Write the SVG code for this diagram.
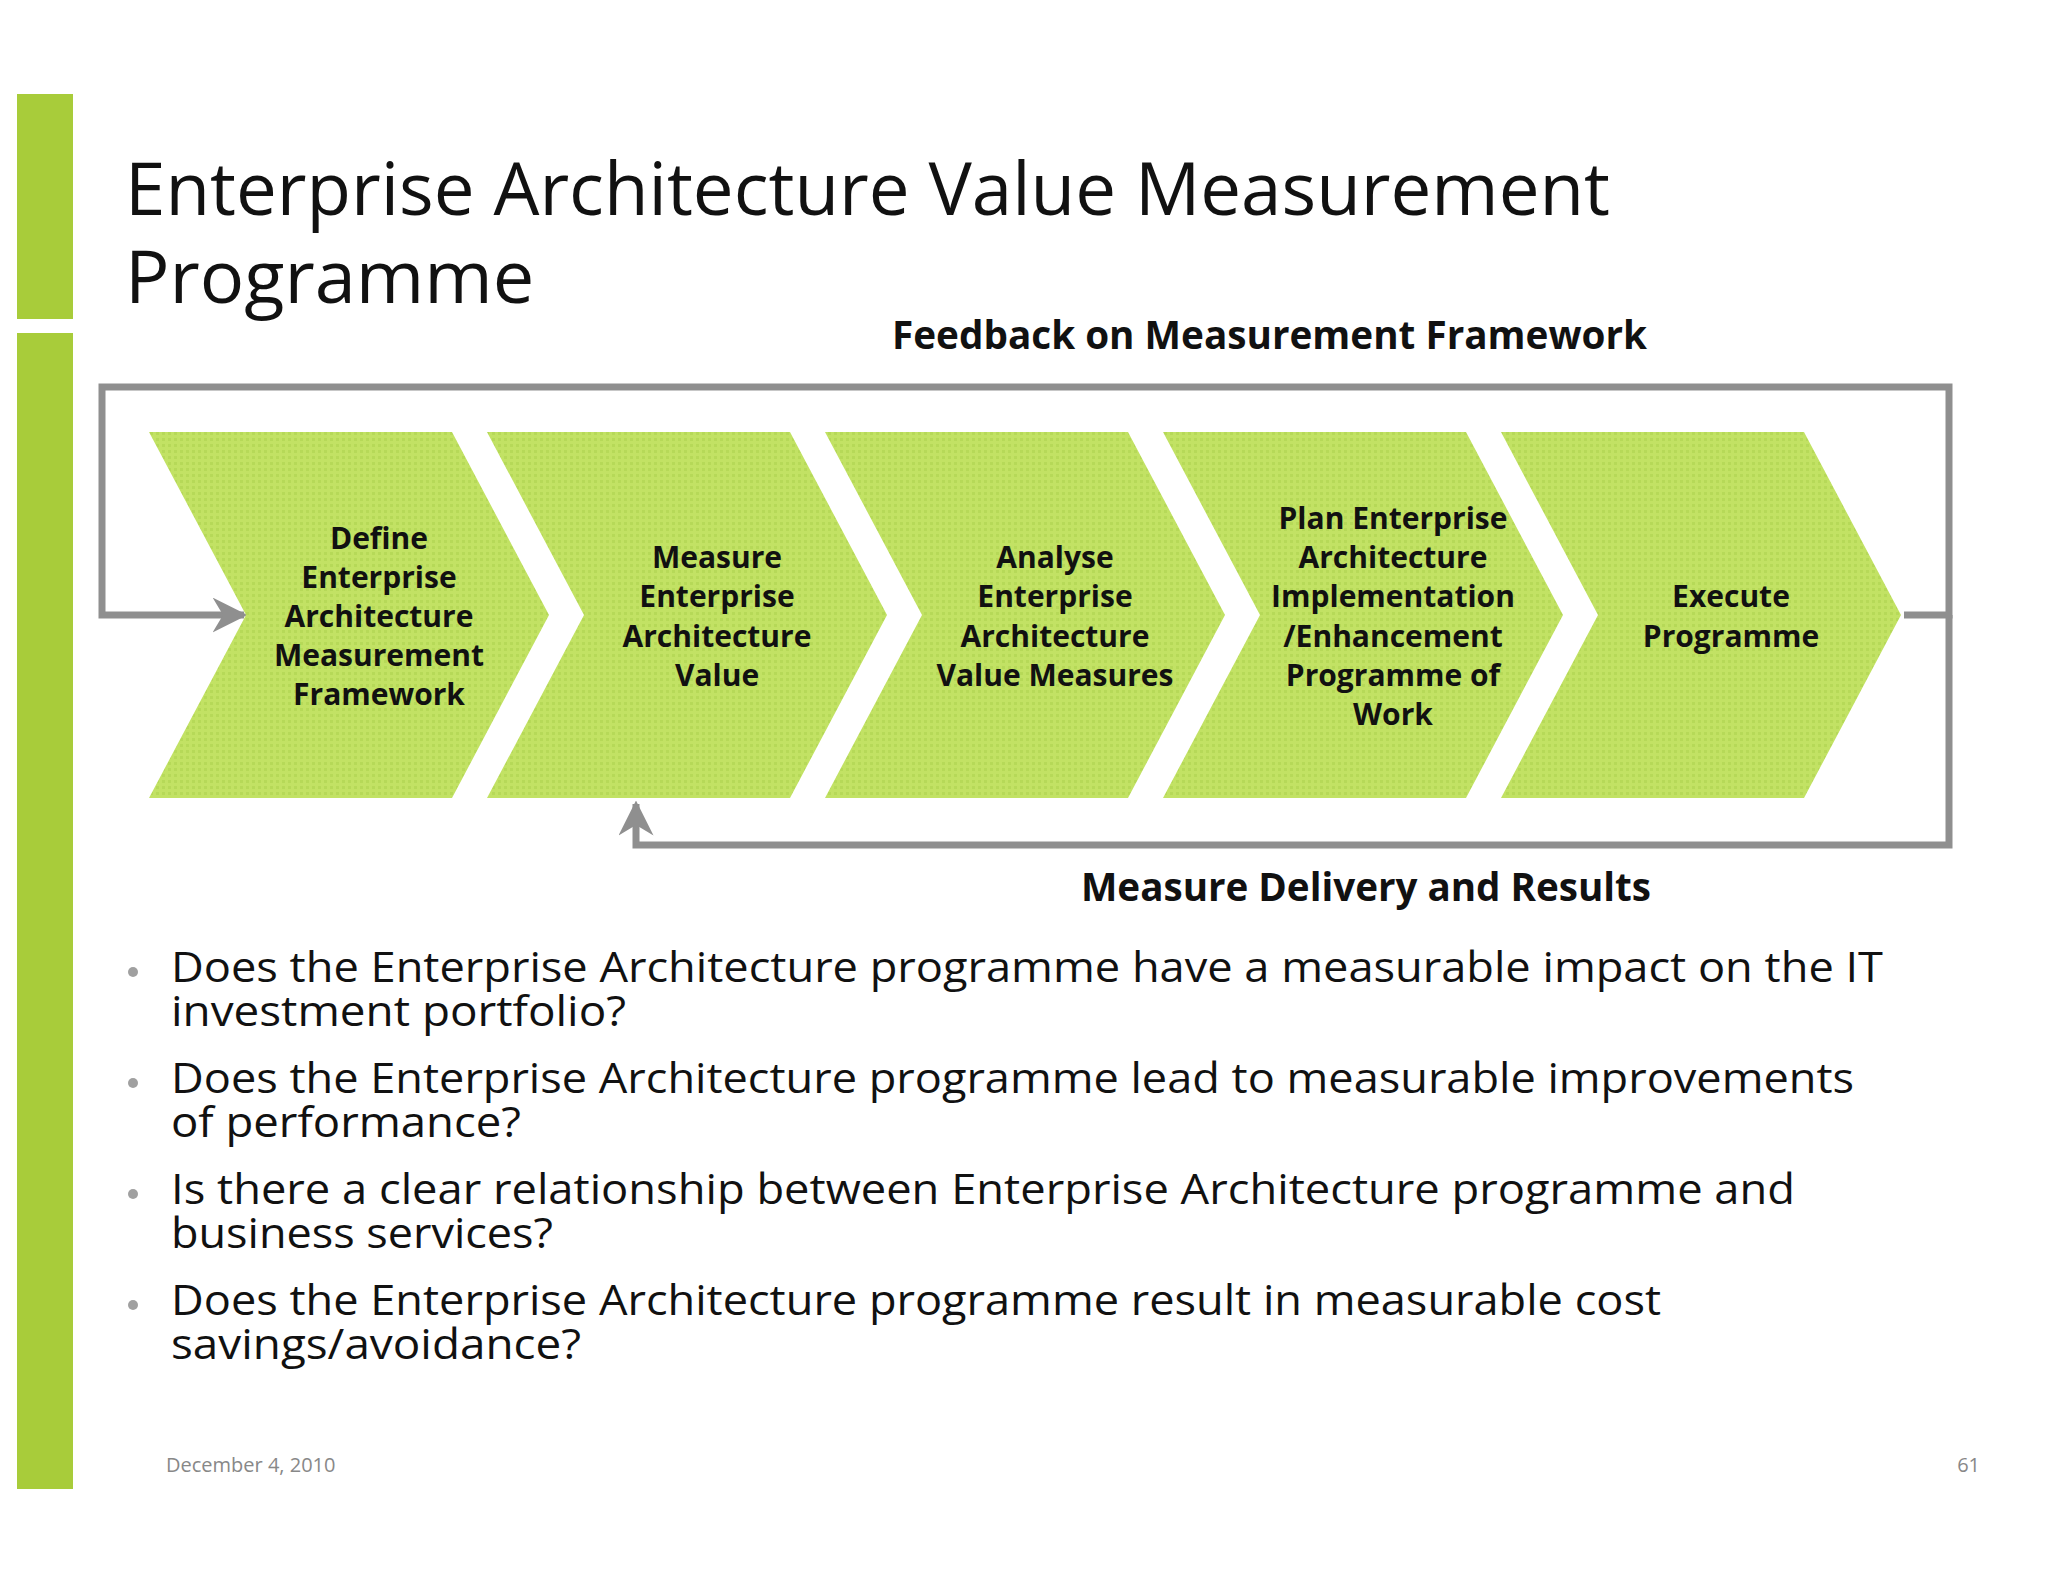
<svg xmlns="http://www.w3.org/2000/svg" width="2048" height="1582" viewBox="0 0 2048 1582">
<style>
.t{font-family:"Open Sans","Liberation Sans",sans-serif;fill:#111}
.b{font-weight:bold}
.c{font-family:"Open Sans","Liberation Sans",sans-serif;font-weight:bold;font-size:30px;fill:#111;text-anchor:middle}
.chev{fill:url(#tex)}
.conn{fill:none;stroke:#8f8f8f;stroke-width:7}
.bul{fill:#a0a0a0}
</style>
<defs>
<pattern id="tex" width="6" height="6" patternUnits="userSpaceOnUse">
<rect width="6" height="6" fill="#c2e264"/>
<rect width="3" height="3" fill="#b6d958"/>
</pattern>
<marker id="ah" viewBox="0 0 10 10" refX="9" refY="5" markerWidth="5" markerHeight="5" orient="auto" markerUnits="strokeWidth">
<path d="M0,0 L10,5 L0,10 L3,5 Z" fill="#8f8f8f"/>
</marker>
</defs>
<rect width="2048" height="1582" fill="#fff"/>
<rect x="17" y="94" width="56" height="225" fill="#a8cc3a"/>
<rect x="17" y="333" width="56" height="1156" fill="#a8cc3a"/>
<text class="t" x="125" y="215" font-size="74" textLength="1485" lengthAdjust="spacingAndGlyphs">Enterprise Architecture Value Measurement</text>
<text class="t" x="125" y="303" font-size="74">Programme</text>
<g id="connectors">
<path class="conn" d="M1904,615 H1949 V387 H102 V615 H244" marker-end="url(#ah)"/>
<path class="conn" d="M1949,615 V845 H636 V804" marker-end="url(#ah)"/>
</g>
<g id="n1"><polygon class="chev" points="149,432 452,432 549,615 452,798 149,798 246,615"/>
<text class="c"><tspan x="379" y="549">Define</tspan><tspan x="379" y="588">Enterprise</tspan><tspan x="379" y="627">Architecture</tspan><tspan x="379" y="666">Measurement</tspan><tspan x="379" y="705">Framework</tspan></text></g>
<g id="n2"><polygon class="chev" points="487,432 790,432 887,615 790,798 487,798 584,615"/>
<text class="c"><tspan x="717" y="568">Measure</tspan><tspan x="717" y="607">Enterprise</tspan><tspan x="717" y="647">Architecture</tspan><tspan x="717" y="686">Value</tspan></text></g>
<g id="n3"><polygon class="chev" points="825,432 1128,432 1225,615 1128,798 825,798 922,615"/>
<text class="c"><tspan x="1055" y="568">Analyse</tspan><tspan x="1055" y="607">Enterprise</tspan><tspan x="1055" y="647">Architecture</tspan><tspan x="1055" y="686">Value Measures</tspan></text></g>
<g id="n4"><polygon class="chev" points="1163,432 1466,432 1563,615 1466,798 1163,798 1260,615"/>
<text class="c"><tspan x="1393" y="529">Plan Enterprise</tspan><tspan x="1393" y="568">Architecture</tspan><tspan x="1393" y="607">Implementation</tspan><tspan x="1393" y="647">/Enhancement</tspan><tspan x="1393" y="686">Programme of</tspan><tspan x="1393" y="725">Work</tspan></text></g>
<g id="n5"><polygon class="chev" points="1501,432 1804,432 1901,615 1804,798 1501,798 1598,615"/>
<text class="c"><tspan x="1731" y="607">Execute</tspan><tspan x="1731" y="647">Programme</tspan></text></g>
<text class="t b" x="892" y="349" font-size="40" textLength="755" lengthAdjust="spacingAndGlyphs">Feedback on Measurement Framework</text>
<text class="t b" x="1081" y="901" font-size="40" textLength="570" lengthAdjust="spacingAndGlyphs">Measure Delivery and Results</text>
<g font-size="42">
<circle class="bul" cx="133" cy="972" r="5"/>
<text class="t" x="171" y="982" textLength="1712" lengthAdjust="spacingAndGlyphs">Does the Enterprise Architecture programme have a measurable impact on the IT</text>
<text class="t" x="171" y="1026" textLength="455" lengthAdjust="spacingAndGlyphs">investment portfolio?</text>
<circle class="bul" cx="133" cy="1083" r="5"/>
<text class="t" x="171" y="1093" textLength="1683" lengthAdjust="spacingAndGlyphs">Does the Enterprise Architecture programme lead to measurable improvements</text>
<text class="t" x="171" y="1137" textLength="350" lengthAdjust="spacingAndGlyphs">of performance?</text>
<circle class="bul" cx="133" cy="1194" r="5"/>
<text class="t" x="171" y="1204" textLength="1624" lengthAdjust="spacingAndGlyphs">Is there a clear relationship between Enterprise Architecture programme and</text>
<text class="t" x="171" y="1248" textLength="382" lengthAdjust="spacingAndGlyphs">business services?</text>
<circle class="bul" cx="133" cy="1305" r="5"/>
<text class="t" x="171" y="1315" textLength="1490" lengthAdjust="spacingAndGlyphs">Does the Enterprise Architecture programme result in measurable cost</text>
<text class="t" x="171" y="1359" textLength="410" lengthAdjust="spacingAndGlyphs">savings/avoidance?</text>
</g>
<text class="t" x="166" y="1472" font-size="20" style="fill:#888">December 4, 2010</text>
<text class="t" x="1980" y="1472" font-size="20" text-anchor="end" style="fill:#888">61</text>
</svg>
